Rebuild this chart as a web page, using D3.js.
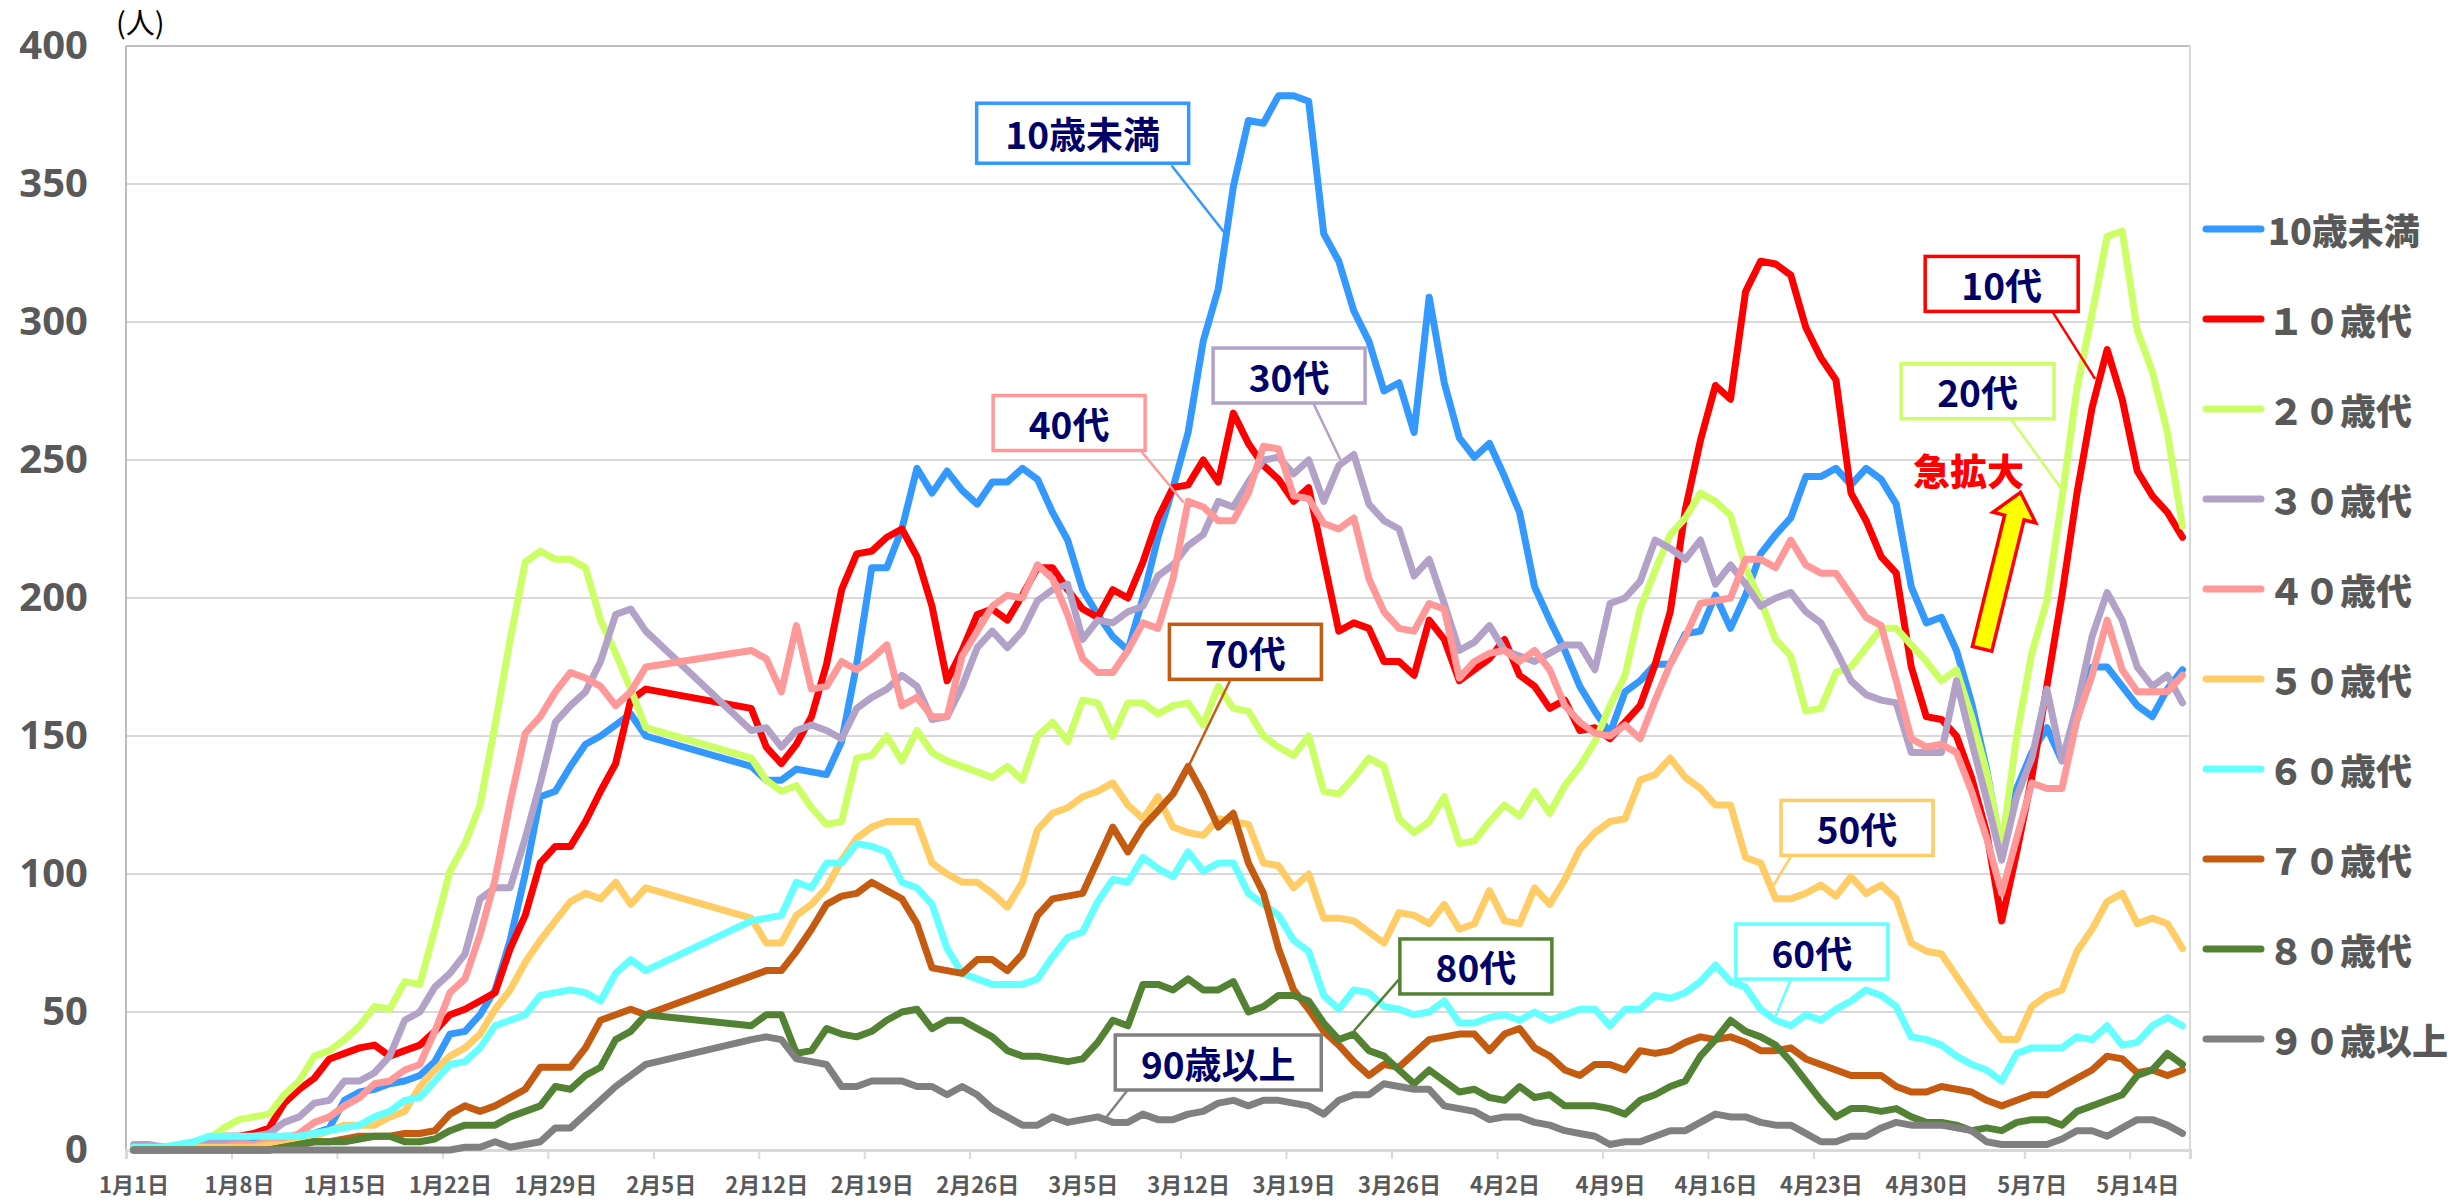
<!DOCTYPE html>
<html>
<head>
<meta charset="utf-8">
<script src="https://cdn.jsdelivr.net/npm/d3@7"></script>
<style>
	body { margin: 0; background: #fff; }
	svg { display: block; }
</style>
</head>
<body>
<svg id="chart"></svg>
<script>
// daily counts, Jan 1 .. May 17 (index 0..136); null = no data (Feb 5-10)
var seriesNames = ["10歳未満", "１０歳代", "２０歳代", "３０歳代", "４０歳代", "５０歳代", "６０歳代", "７０歳代", "８０歳代", "９０歳以上"];
var seriesColors = ["#3399FF", "#FF0000", "#CCFF66", "#B3A2C7", "#FF9999", "#FFCC66", "#66FFFF", "#C55A11", "#548235", "#808080"];
var tickLabels = ["1月1日", "1月8日", "1月15日", "1月22日", "1月29日", "2月5日", "2月12日", "2月19日", "2月26日", "3月5日",
	"3月12日", "3月19日", "3月26日", "4月2日", "4月9日", "4月16日", "4月23日", "4月30日", "5月7日", "5月14日"];
var yTicks = [0, 50, 100, 150, 200, 250, 300, 350, 400];
var _ = null;

var under10 = [1,1,1,1,2,2,3,3,4,4, 5,5,6,8,18,21,22,24,25,27,32,
	42,43,49,58,76,100,128,130,139,147,150,154,158,150, _,_,_,_,_,_,
	139,134,134,138,137,136,148,176,211,211, 225,247,238,246,239,234,242,242,247,243,
	231,221,203,194,186,181,200,222,240,260, 293,312,349,373,372,382,382,380,332,322,
	304,293,275,278,260,309,278,258,251,256, 244,231,204,192,181,168,159,151,166,170,
	176,176,187,188,201,189,201,216,223,229, 244,244,247,241,247,243,234,204,191,193,
	181,162,138,108,131,144,153,141,156,175, 175,168,161,157,167,174];
var teens = [0,0,0,1,1,3,5,5,6,8, 17,22,26,33,35,37,38,34,36,38,43,
	49,51,54,57,73,85,104,110,110,119,130,140,163,167, _,_,_,_,_,_,
	160,146,140,147,157,176,203,216,217,222, 225,215,197,170,181,194,196,192,201,211,
	211,203,196,193,203,200,213,229,240,241, 250,242,267,256,248,243,235,240,214,188,
	191,189,177,177,172,192,185,170,174,178, 185,172,168,160,163,152,153,149,155,161,
	176,195,232,257,277,272,311,322,321,317, 298,287,279,238,228,215,209,175,157,156,
	150,135,115,83,108,135,168,201,238,269, 290,272,246,237,231,222];
var twenties = [1,1,1,2,3,4,8,11,12,13, 20,25,34,36,40,45,52,51,61,60,80,
	101,111,125,154,185,213,217,214,214,211,192,180,167,153, _,_,_,_,_,_,
	142,134,130,132,124,118,119,142,143,150, 141,152,144,141,139,137,135,139,134,150,
	155,148,163,162,150,162,162,158,161,162, 154,168,160,159,150,146,143,150,130,129,
	135,142,139,120,115,119,128,111,112,119, 125,121,130,122,132,139,148,161,172,196,
	210,223,229,238,235,230,211,199,185,179, 159,160,173,175,182,189,189,183,177,170,
	174,157,137,110,150,180,199,236,276,303, 331,333,297,282,260,226];
var thirties = [2,2,1,1,2,3,3,4,5,6, 10,12,17,18,25,25,28,34,47,50,59,
	64,71,91,95,95,113,133,155,161,166,177,194,196,188, _,_,_,_,_,_,
	152,153,146,152,154,152,149,160,164,167, 172,168,156,157,168,182,188,182,188,199,
	203,205,185,192,191,195,197,208,212,219, 223,235,233,242,250,251,245,250,235,248,
	252,234,228,225,208,214,198,181,184,190, 181,179,177,180,183,183,174,198,200,206,
	221,218,214,221,205,212,205,197,200,202, 195,191,181,170,165,163,162,144,144,144,
	170,148,127,105,128,142,167,141,161,186, 202,192,175,168,172,162];
var forties = [0,0,0,1,1,1,1,2,2,3, 4,6,10,12,16,19,24,25,29,31,43,
	57,62,78,98,126,151,157,166,173,171,168,161,166,175, _,_,_,_,_,_,
	181,178,166,190,167,168,177,174,178,183, 161,164,157,157,179,188,197,201,200,212,
	207,194,178,173,173,181,191,189,207,235, 233,228,228,238,255,254,237,236,227,225,
	229,207,195,189,188,198,196,171,177,180, 181,177,181,174,161,155,151,150,154,149,
	163,176,186,198,199,200,214,214,211,221, 212,209,209,201,193,190,170,149,146,147,
	144,130,113,93,113,133,131,131,156,172, 192,174,166,166,166,172];
var fifties = [0,0,0,0,1,1,1,1,1,2, 2,3,5,7,9,9,9,12,14,23,29,
	34,37,42,51,58,68,76,83,90,93,91,97,89,95, _,_,_,_,_,_,
	84,75,75,85,89,95,105,113,117,119, 119,119,104,100,97,97,93,88,97,116,
	122,124,128,130,133,125,120,128,117,115, 114,120,119,118,104,103,95,100,84,84,
	83,79,75,86,85,82,89,80,82,94, 83,82,95,89,98,109,115,119,120,134,
	136,142,135,131,125,125,106,104,91,91, 93,96,92,99,93,96,91,75,72,71,
	63,55,47,40,40,52,56,58,72,80, 90,93,82,84,82,73];
var sixties = [1,1,1,2,3,5,5,5,5,5, 5,5,6,7,8,9,12,14,18,19,25,
	31,32,37,45,47,49,56,57,58,57,54,64,69,65, _,_,_,_,_,_,
	83,84,85,97,95,104,104,111,110,108, 97,95,89,73,64,62,60,60,60,62,
	70,77,79,90,98,97,106,102,99,108, 101,104,104,93,89,85,76,72,56,51,
	58,57,52,51,49,50,54,46,46,48, 49,47,50,47,49,51,51,45,51,51,
	56,55,57,61,67,61,59,51,47,45, 49,47,51,54,58,56,52,41,40,38,
	34,31,29,25,35,37,37,37,41,40, 45,38,39,45,48,45];
var seventies = [0,0,0,0,0,0,0,0,0,0, 1,2,3,3,4,5,5,5,6,6,7,
	13,16,14,16,19,22,30,30,30,37,47,49,51,49, _,_,_,_,_,_,
	63,65,65,72,80,89,92,93,97,94, 91,82,66,65,64,69,69,65,71,85,
	91,92,93,105,117,108,117,123,129,139, 129,117,122,104,93,73,58,51,43,38,
	32,27,31,30,35,40,41,42,42,36, 42,44,37,34,29,27,31,31,29,36,
	35,36,39,41,40,41,39,36,36,37, 33,31,29,27,27,27,23,21,21,23,
	22,21,18,16,18,20,20,23,26,29, 34,33,28,29,27,29];
var eighties = [0,0,0,0,0,0,0,0,0,0, 1,2,3,3,3,4,5,5,3,3,4,
	7,9,9,9,12,14,16,23,22,27,30,40,43,49, _,_,_,_,_,_,
	45,49,49,35,36,44,42,41,43,47, 50,51,44,47,47,44,41,36,34,34,
	33,32,33,39,47,45,60,60,58,62, 58,58,61,50,52,56,56,54,46,40,
	42,36,34,29,24,29,25,21,22,19, 18,23,19,20,16,16,16,15,13,18,
	20,23,25,34,40,47,43,41,38,32, 25,18,12,15,15,14,15,12,10,10,
	9,7,8,7,10,11,11,9,14,16, 18,20,27,29,35,31];
var over90 = [0,0,0,0,0,0,0,0,0,0, 0,0,0,0,0,0,0,0,0,0,0,
	0,1,1,3,1,2,3,8,8,13,18,23,27,31, _,_,_,_,_,_,
	40,41,40,33,32,31,23,23,25,25, 25,23,23,20,23,20,15,12,9,9,
	12,10,11,12,10,10,13,11,11,13, 14,17,18,16,18,18,17,16,13,18,
	20,20,24,23,22,22,16,15,14,11, 12,12,10,9,7,6,5,2,3,3,
	5,7,7,10,13,12,12,10,9,9, 6,3,3,5,5,8,10,9,9,9,
	8,7,3,2,2,2,2,4,7,7, 5,8,11,11,9,6];

var seriesValues = [under10, teens, twenties, thirties, forties, fifties, sixties, seventies, eighties, over90];

// callouts: box centre (day, value), leader from (day, value) to (day, value)
var callouts = [
	{text: "10歳未満", s: 0, cx: 63.5, cy: 368.4, w: 212, h: 60, x1: 69.4, y1: 356.7, x2: 72.9, y2: 332.4},
	{text: "30代", s: 3, cx: 77.2, cy: 280.6, w: 152, h: 55, x1: 78.8, y1: 270.7, x2: 80.6, y2: 250.2},
	{text: "40代", s: 4, cx: 62.6, cy: 263.4, w: 152, h: 55, x1: 67.4, y1: 253.1, x2: 70.2, y2: 234.6},
	{text: "70代", s: 7, cx: 74.3, cy: 180.5, w: 152, h: 55, x1: 73.3, y1: 170.3, x2: 70.5, y2: 138.7},
	{text: "80代", s: 8, cx: 89.6, cy: 66.5, w: 152, h: 55, x1: 84.5, y1: 61.8, x2: 81.5, y2: 43.1},
	{text: "90歳以上", s: 9, cx: 72.5, cy: 31.7, w: 206, h: 55, x1: 66.5, y1: 21.8, x2: 65.0, y2: 11.4},
	{text: "50代", s: 5, cx: 114.9, cy: 116.7, w: 152, h: 55, x1: 110.5, y1: 106.3, x2: 109.3, y2: 95.3},
	{text: "60代", s: 6, cx: 111.9, cy: 71.9, w: 152, h: 55, x1: 110.5, y1: 61.8, x2: 109.5, y2: 48.6},
	{text: "10代", s: 1, cx: 124.5, cy: 313.8, w: 153, h: 55, x1: 127.9, y1: 303.5, x2: 130.7, y2: 279.4},
	{text: "20代", s: 2, cx: 122.9, cy: 274.9, w: 153, h: 55, x1: 125.1, y1: 264.9, x2: 128.7, y2: 237.8}
];

var W = 2456, H = 1201;
var svg = d3.select('#chart')
	.attr('width', W)
	.attr('height', H);

var x = d3.scaleLinear().domain([0, 137]).range([126, 2190]);
var y = d3.scaleLinear().domain([0, 400]).range([1150, 46]);
var half = x(0.5) - x(0);

// gridlines
svg.append('g')
	.selectAll('line')
	.data(yTicks.slice(1, -1))
	.enter().append('line')
	.attr('x1', x(0)).attr('x2', x(137))
	.attr('y1', d => y(d)).attr('y2', d => y(d))
	.attr('stroke', '#D9D9D9')
	.attr('stroke-width', 2);

// plot frame
svg.append('line')
	.attr('x1', x(0)).attr('x2', x(137)).attr('y1', y(400)).attr('y2', y(400))
	.attr('stroke', '#BFBFBF').attr('stroke-width', 2);
svg.append('line')
	.attr('x1', x(137)).attr('x2', x(137)).attr('y1', y(400)).attr('y2', y(0))
	.attr('stroke', '#D9D9D9').attr('stroke-width', 2);
svg.append('line')
	.attr('x1', x(0)).attr('x2', x(0)).attr('y1', y(400)).attr('y2', y(0))
	.attr('stroke', '#A6A6A6').attr('stroke-width', 1.5);

// y axis labels
var yAxis = svg.append('g')
	.attr('transform', 'translate(' + x(0) + ',0)')
	.call(d3.axisLeft(y).tickValues(yTicks).tickSize(0).tickPadding(38));
yAxis.select('.domain').remove();
yAxis.selectAll('text')
	.attr('fill', '#595959')
	.style('font-family', '"Noto Sans", "DejaVu Sans", sans-serif')
	.style('font-weight', 700)
	.style('font-size', '40px');

// x axis
var tickDays = d3.range(0, 134, 7);
var xAxis = svg.append('g')
	.attr('transform', 'translate(0,' + y(0) + ')')
	.call(d3.axisBottom(x).tickValues(tickDays).tickFormat((d, i) => tickLabels[i]).tickSize(9).tickPadding(18));
xAxis.select('.domain')
	.attr('stroke', '#D9D9D9')
	.attr('stroke-width', 3);
xAxis.selectAll('.tick line')
	.attr('stroke', '#D9D9D9')
	.attr('stroke-width', 2);
xAxis.selectAll('text')
	.attr('x', half)
	.attr('fill', '#595959')
	.style('font-family', '"Noto Sans CJK JP", sans-serif')
	.style('font-weight', 700)
	.style('font-size', '22px');

// unit label
svg.append('text')
	.attr('x', 116)
	.attr('y', 34)
	.text('(人)')
	.style('font-family', '"Noto Sans CJK JP", sans-serif')
	.style('font-size', '29px')
	.attr('fill', '#000');

// lines
var line = d3.line()
	.x(d => x(d[0] + 0.5))
	.y(d => y(d[1]));

svg.append('g')
	.selectAll('path')
	.data(seriesValues)
	.enter().append('path')
	.attr('d', vals => line(vals.map((v, i) => [i, v]).filter(p => p[1] != null)))
	.attr('fill', 'none')
	.attr('stroke', (d, i) => seriesColors[i])
	.attr('stroke-width', 7)
	.attr('stroke-linejoin', 'round')
	.attr('stroke-linecap', 'round');

// callouts
var co = svg.append('g')
	.selectAll('g')
	.data(callouts)
	.enter().append('g');
co.append('line')
	.attr('x1', d => x(d.x1)).attr('y1', d => y(d.y1))
	.attr('x2', d => x(d.x2)).attr('y2', d => y(d.y2))
	.attr('stroke', d => seriesColors[d.s])
	.attr('stroke-width', 2.5);
co.append('rect')
	.attr('x', d => x(d.cx) - d.w / 2)
	.attr('y', d => y(d.cy) - d.h / 2)
	.attr('width', d => d.w)
	.attr('height', d => d.h)
	.attr('fill', '#fff')
	.attr('stroke', d => seriesColors[d.s])
	.attr('stroke-width', 3.5);
co.append('text')
	.attr('x', d => x(d.cx))
	.attr('y', d => y(d.cy))
	.attr('text-anchor', 'middle')
	.attr('dominant-baseline', 'central')
	.attr('fill', '#000066')
	.style('font-family', '"Noto Sans CJK JP", sans-serif')
	.style('font-weight', 700)
	.style('font-size', '37px')
	.text(d => d.text);

// 急拡大 arrow
var tail = [x(123.2), y(181.6)], tip = [x(125.75), y(238.3)];
var len = Math.hypot(tip[0] - tail[0], tip[1] - tail[1]);
var ang = Math.atan2(tip[1] - tail[1], tip[0] - tail[0]) * 180 / Math.PI;
var hl = 26, sw = 10, hw = 22;
svg.append('polygon')
	.attr('points', [[0, -sw], [len - hl, -sw], [len - hl, -hw], [len, 0], [len - hl, hw], [len - hl, sw], [0, sw]].join(' '))
	.attr('transform', 'translate(' + tail[0] + ',' + tail[1] + ') rotate(' + ang + ')')
	.attr('fill', '#FFFF00')
	.attr('stroke', '#FF0000')
	.attr('stroke-width', 3.5)
	.attr('stroke-linejoin', 'miter');
svg.append('text')
	.attr('x', x(122.3))
	.attr('y', y(246.2))
	.attr('text-anchor', 'middle')
	.attr('dominant-baseline', 'central')
	.attr('fill', '#FF0000')
	.style('font-family', '"Noto Sans CJK JP", sans-serif')
	.style('font-weight', 900)
	.style('font-size', '37px')
	.text('急拡大');

// legend
var ly = d3.scalePoint().domain(seriesNames).range([229, 1039]);
var lg = svg.append('g')
	.selectAll('g')
	.data(seriesNames)
	.enter().append('g')
	.attr('transform', d => 'translate(0,' + ly(d) + ')');
lg.append('line')
	.attr('x1', 2206).attr('x2', 2261)
	.attr('stroke', (d, i) => seriesColors[i])
	.attr('stroke-width', 7)
	.attr('stroke-linecap', 'round');
lg.append('text')
	.attr('x', 2268)
	.attr('dominant-baseline', 'central')
	.attr('fill', '#595959')
	.style('font-family', '"Noto Sans CJK JP", sans-serif')
	.style('font-weight', 900)
	.style('font-size', '36px')
	.text(d => d);
</script>
</body>
</html>
